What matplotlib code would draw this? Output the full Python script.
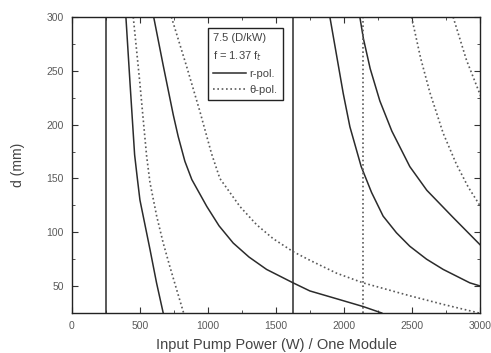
import matplotlib
matplotlib.use("Agg")
import matplotlib.pyplot as plt
from matplotlib.lines import Line2D
from matplotlib.ticker import MultipleLocator

plt.rcParams['font.family'] = ['Liberation Sans', 'DejaVu Sans']

# r-pol. (solid) curves: input pump power (W) vs d (mm)
r_vertical = [250, 1625]
r_curves = [
    ([396, 427, 460, 480, 499, 536, 573, 621, 670],
     [300, 237, 172, 150, 130, 107, 84, 53, 25]),
    ([600, 670, 744, 780, 829, 880, 990, 1080, 1184, 1300, 1429, 1624, 1747, 1950, 2138, 2275],
     [300, 255, 209, 189, 166, 149, 124, 106, 90, 77, 65.5, 53, 45.5, 38, 31, 25]),
    ([1894, 1992, 2041, 2124, 2200, 2285, 2383, 2481, 2604, 2726, 2922, 3000],
     [300, 229, 198, 161, 137, 115, 99.5, 87, 75, 65.5, 53, 50]),
    ([2114, 2140, 2190, 2261, 2349, 2481, 2606, 2797, 3000],
     [300, 280, 252, 222, 194, 161, 139, 114, 88]),
]

# theta-pol. (dotted) curves
t_vertical = [2135]
t_curves = [
    ([450, 499, 523, 548, 573, 622, 670, 719, 768, 820],
     [300, 238, 205, 171, 146, 115, 90, 68, 47, 25]),
    ([730, 842, 940, 1025, 1086, 1233, 1356, 1478, 1624, 1747, 1943, 2138, 2481, 2726, 2990],
     [300, 254, 212, 173, 150, 124, 107, 94, 82, 74, 62, 53, 41, 33, 25]),
    ([2494, 2560, 2628, 2726, 2824, 2910, 3000],
     [300, 262, 230, 192, 163, 142, 124]),
    ([2799, 2897, 3000],
     [300, 260, 227]),
]

solid_c = '#2b2b2b'
dot_c = '#5a5a5a'
dot_style = (0, (1, 1.6))

fig = plt.figure(figsize=(4.91, 3.53), dpi=100)
ax = fig.add_axes([0.1466, 0.1133, 0.832, 0.8385])

for x0 in r_vertical:
    ax.axvline(x0, color=solid_c, lw=1.1)
for xs, ys in r_curves:
    ax.plot(xs, ys, color=solid_c, lw=1.1)

for x0 in t_vertical:
    ax.axvline(x0, color=dot_c, lw=1.2, ls=dot_style)
for xs, ys in t_curves:
    ax.plot(xs, ys, color=dot_c, lw=1.2, ls=dot_style)

ax.set_xlim(0, 3000)
ax.set_ylim(25, 300)
ax.xaxis.set_major_locator(MultipleLocator(500))
ax.xaxis.set_minor_locator(MultipleLocator(250))
ax.yaxis.set_major_locator(MultipleLocator(50))
ax.yaxis.set_minor_locator(MultipleLocator(25))
ax.set_yticks([50, 100, 150, 200, 250, 300])
ax.tick_params(which='both', direction='in', top=True, right=True,
               labelsize=7.5, labelcolor='#5a5a5a', color='#333333')
ax.tick_params(which='major', length=4, width=0.8, pad=6)
ax.tick_params(which='minor', length=2.5, width=0.6)
for sp in ax.spines.values():
    sp.set_color('#222222')
    sp.set_linewidth(1.0)

ax.set_xlabel('Input Pump Power (W) / One Module', fontsize=10.5,
              color='#444444', labelpad=5)
ax.set_ylabel('d (mm)', fontsize=10, color='#444444', labelpad=15)

handles = [Line2D([], [], color=solid_c, lw=1.1),
           Line2D([], [], color=dot_c, lw=1.2, ls=dot_style)]
leg = ax.legend(handles, ['r-pol.', '\u03b8-pol.'],
                title='7.5 (D/kW)\nf = 1.37 f$_t$',
                loc='upper left', bbox_to_anchor=(0.333, 0.962),
                borderaxespad=0, fontsize=8, title_fontsize=8,
                alignment='left', fancybox=False, framealpha=1,
                edgecolor='#222222', handlelength=3.0, handletextpad=0.3,
                borderpad=0.45, labelspacing=0.55)
leg.get_frame().set_linewidth(1.0)
leg.get_title().set_linespacing(1.6)
for t in leg.get_texts():
    t.set_color('#444444')
leg.get_title().set_color('#444444')

fig.savefig('out.png', dpi=100)
